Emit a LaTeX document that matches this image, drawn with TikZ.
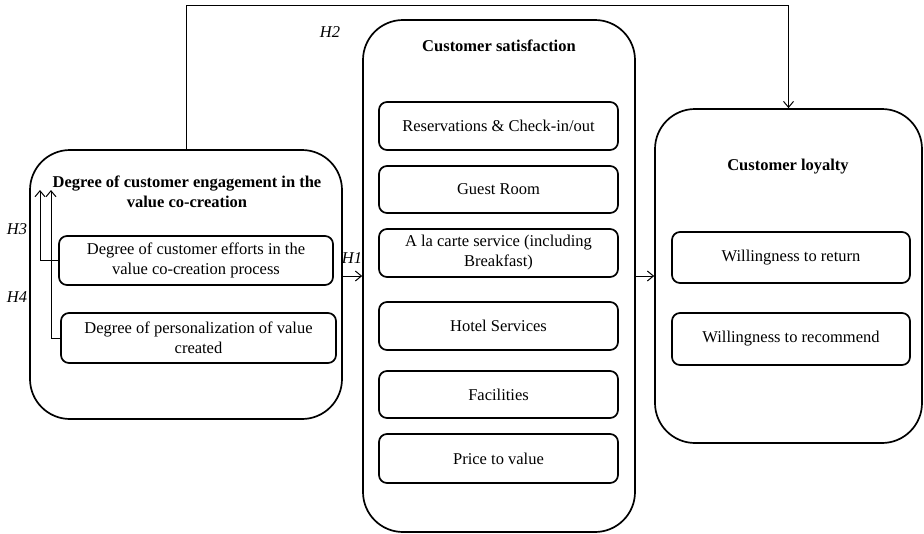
\documentclass[tikz,border=0pt]{standalone}
\usepackage{fontspec}
\setmainfont{Liberation Serif}
\usetikzlibrary{arrows.meta}

\newcommand{\diagfont}{\fontsize{16.5}{20}\selectfont}

\begin{document}
\begin{tikzpicture}[x=1pt, y=-1pt,
    every node/.style={font=\diagfont},
    outerbox/.style={draw, line width=1.7pt, rounded corners=40pt, inner sep=0pt},
    itembox/.style={draw, line width=1.7pt, rounded corners=8pt, align=center, inner sep=2pt},
    head/.style={font=\diagfont\bfseries, align=center},
    hyp/.style={font=\diagfont\itshape},
    link/.style={line width=1pt, -{Straight Barb[length=6pt,width=10pt]}}]
    \useasboundingbox (0,0) rectangle (924,533);   % page size

    % engagement block
    \node [outerbox, minimum width=312pt, minimum height=269pt] (eng) at (186,284.5) {};
    \node [head] (engtitle) at (187,192) {Degree of customer engagement in the\\value co-creation};
    \node [itembox, minimum width=274pt, minimum height=49pt] (eff) at (196,260.5)
        {Degree of customer efforts in the\\value co-creation process};
    \node [itembox, minimum width=275pt, minimum height=50pt] (pers) at (198.5,338)
        {Degree of personalization of value\\created};

    % satisfaction block
    \node [outerbox, minimum width=272pt, minimum height=512pt] (sat) at (499,276) {};
    \node [head] (sattitle) at (499,46) {Customer satisfaction};
    \node [itembox, minimum width=239pt, minimum height=48pt] (res) at (498.5,126) {Reservations \& Check-in/out};
    \node [itembox, minimum width=239pt, minimum height=47pt] (room) at (498.5,189.5) {Guest Room};
    \node [itembox, minimum width=239pt, minimum height=48pt] (carte) at (498.5,253)
        {A la carte service (including\\Breakfast)};
    \node [itembox, minimum width=239pt, minimum height=48pt] (serv) at (498.5,326) {Hotel Services};
    \node [itembox, minimum width=239pt, minimum height=47pt] (fac) at (498.5,394.5) {Facilities};
    \node [itembox, minimum width=239pt, minimum height=49pt] (price) at (498.5,458.5) {Price to value};

    % loyalty block
    \node [outerbox, minimum width=267pt, minimum height=334pt] (loy) at (788.5,276) {};
    \node [head] (loytitle) at (788,167) {Customer loyalty};
    \node [itembox, minimum width=238pt, minimum height=51pt] (ret) at (791,257.5) {Willingness to return};
    \node [itembox, minimum width=238pt, minimum height=52pt] (rec) at (791,339) {Willingness to recommend};

    % hypotheses
    \draw [link] (eng.east |- sat.west) -- (sat.west);          % H1
    \node [hyp] (h1) at (352,258) {H1};

    \coordinate (h2top) at (186,5);
    \draw [link] (eng.north) -- (h2top) -| (loy.north);          % H2
    \node [hyp] (h2) at (330,32) {H2};

    \coordinate (h3end) at (40,190);
    \draw [link] (eff.west) -| (h3end);                          % H3
    \node [hyp] (h3) at (17,229) {H3};

    \coordinate (h4end) at (51,190);
    \draw [link] (pers.west) -| (h4end);                         % H4
    \node [hyp] (h4) at (17,297) {H4};

    \draw [link] (sat.east) -- (loy.west);                       % to loyalty
\end{tikzpicture}
\end{document}
